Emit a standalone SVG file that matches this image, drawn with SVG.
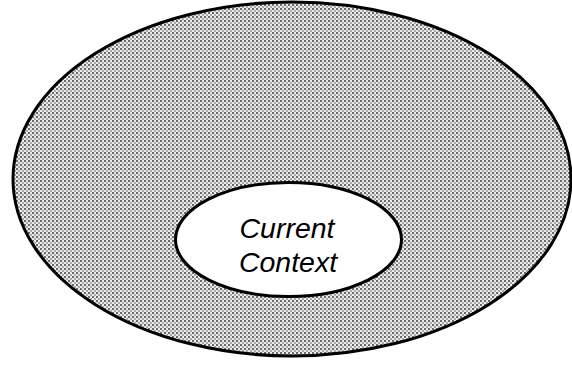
<svg xmlns="http://www.w3.org/2000/svg" width="572" height="368" viewBox="0 0 572 368">
  <defs>
    <pattern id="dots" width="4" height="4" patternUnits="userSpaceOnUse">
      <rect width="4" height="4" fill="#ececec"/>
      <rect x="0" y="0" width="2" height="2" fill="#6a6a6a"/>
      <rect x="2" y="2" width="2" height="2" fill="#a8a8a8"/>
    </pattern>
  </defs>
  <style>
    .outline { stroke: #000; stroke-width: 3; }
    .lbl { font-family: "Liberation Sans", Arial, sans-serif; font-style: italic; font-size: 28.5px; fill: #000; text-anchor: middle; }
  </style>
  <rect width="572" height="368" fill="#fff"/>
  <g id="outer">
    <ellipse class="outline" cx="292" cy="179" rx="279" ry="177" fill="url(#dots)"/>
  </g>
  <g id="current-context">
    <ellipse class="outline" cx="288.5" cy="239.5" rx="113" ry="57" fill="#fff"/>
    <text class="lbl" x="287" y="238">Current</text>
    <text class="lbl" x="288" y="272">Context</text>
  </g>
  <g id="connectors"/>
</svg>
